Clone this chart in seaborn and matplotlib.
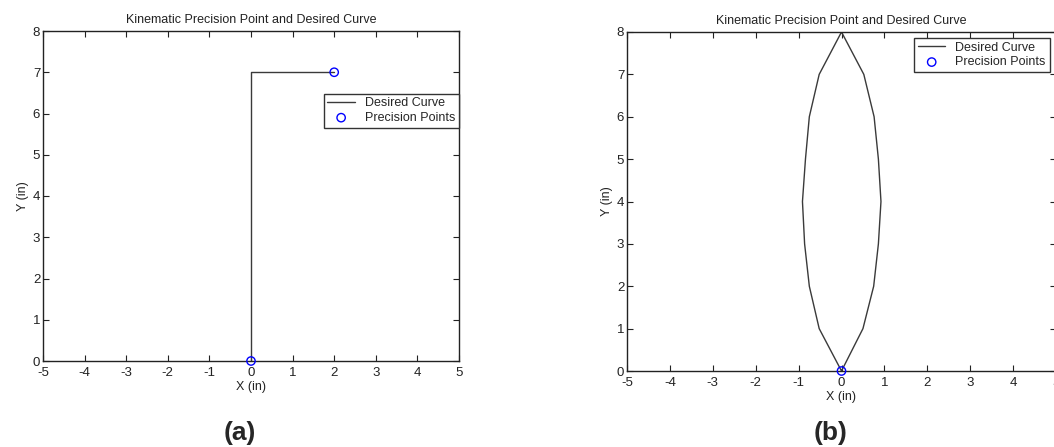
import pandas as pd
import matplotlib.pyplot as plt
import seaborn as sns

# Panel (a) data
curve_a_x = [0, 0, 2]
curve_a_y = [0, 7, 7]
points_a_x = [0, 2]
points_a_y = [0, 7]

# Panel (b) data (lens shaped curve)
curve_b_x = [0, 0.5, 0.75, 0.86, 0.92, 0.86, 0.76, 0.52, 0, -0.52, -0.75, -0.84, -0.91, -0.86, -0.75, -0.52, 0]
curve_b_y = [0, 1, 2, 3, 4, 5, 6, 7, 8, 7, 6, 5, 4, 3, 2, 1, 0]
points_b_x = [0]
points_b_y = [0]

x_ticks = list(range(-5, 6))
y_ticks = list(range(0, 9))
title = "Kinematic Precision Point and Desired Curve"

sns.set_style("ticks")
plt.rcParams['font.family'] = ['Liberation Sans', 'DejaVu Sans']
plt.rcParams['axes.unicode_minus'] = False

fig = plt.figure(figsize=(10.54, 4.47), dpi=100)

W, H = 1054, 447


def pix_axes(left, top, right, bottom):
    return fig.add_axes([left / W, 1 - bottom / H, (right - left) / W, (bottom - top) / H])


def draw_panel(ax, cx, cy, px, py, legend_anchor):
    df_c = pd.DataFrame({"x": cx, "y": cy})
    df_p = pd.DataFrame({"x": px, "y": py})
    sns.lineplot(data=df_c, x="x", y="y", sort=False, estimator=None, ax=ax,
                 color="#3a3a3a", linewidth=1.0, label="Desired Curve")
    sns.scatterplot(data=df_p, x="x", y="y", ax=ax, marker="o", s=36,
                    facecolor="none", edgecolor="#0000ff", linewidth=1.0,
                    label="Precision Points", zorder=5, clip_on=False)
    ax.set_xlim(-5, 5)
    ax.set_ylim(0, 8)
    ax.set_xticks(x_ticks)
    ax.set_yticks(y_ticks)
    ax.tick_params(direction="in", length=4, width=0.8, top=True, right=True,
                   labelsize=9.5, pad=2, colors="#222222")
    ax.tick_params(axis="x", pad=4)
    for sp in ax.spines.values():
        sp.set_linewidth(1.0)
        sp.set_color("#222222")
    ax.set_xlabel("X (in)", fontsize=9, labelpad=2, color="#222222")
    ax.set_ylabel("Y (in)", fontsize=9, labelpad=3, color="#222222")
    ax.set_title(title, fontsize=9, pad=6, color="#222222")
    leg = ax.legend(loc="upper right", bbox_to_anchor=legend_anchor, fontsize=9,
                    frameon=True, fancybox=False, framealpha=1, edgecolor="#333333",
                    handlelength=2.2, borderpad=0.3, labelspacing=0.2,
                    handletextpad=0.8, borderaxespad=0)
    leg.get_frame().set_linewidth(1.0)


ax_a = pix_axes(43, 31, 459, 361)
draw_panel(ax_a, curve_a_x, curve_a_y, points_a_x, points_a_y, (1.0, 0.81))

ax_b = pix_axes(627, 32, 1056, 371)
draw_panel(ax_b, curve_b_x, curve_b_y, points_b_x, points_b_y, (0.985, 0.982))

fig.text(240 / W, 1 - 433 / H, "(a)", fontsize=19, fontweight="bold",
         ha="center", va="center", family=["Liberation Sans", "DejaVu Sans"])
fig.text(831 / W, 1 - 433 / H, "(b)", fontsize=19, fontweight="bold",
         ha="center", va="center", family=["Liberation Sans", "DejaVu Sans"])

fig.savefig("out.png", dpi=100)
